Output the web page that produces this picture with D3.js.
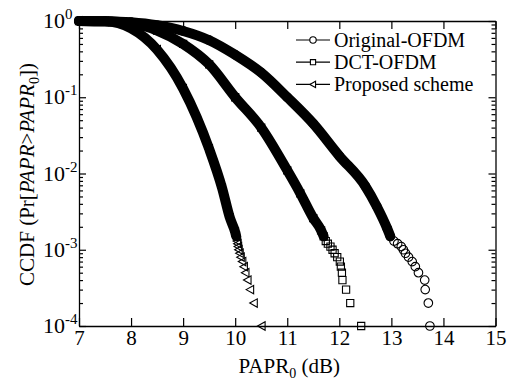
<!DOCTYPE html>
<html>
<head>
<meta charset="utf-8">
<script src="https://cdn.jsdelivr.net/npm/d3@7"></script>
<style>
  html, body { margin: 0; padding: 0; background: #fff; }
</style>
</head>
<body>
<div id="chart"></div>
<script>
// series names (legend order)
const seriesNames = ["Original-OFDM", "DCT-OFDM", "Proposed scheme"];

// Original-OFDM: PAPR0 (dB) and CCDF
const origX = [7.0, 7.5, 8.0, 8.5, 9.0, 9.5, 10.0, 10.5, 11.0, 11.5, 12.0, 12.5, 12.72, 12.92,
  12.98, 13.05, 13.12, 13.19, 13.23, 13.27, 13.33, 13.40, 13.46, 13.52, 13.64, 13.65, 13.71, 13.74];
const origP = [1.0, 0.995, 0.965, 0.88, 0.74, 0.56, 0.36, 0.21, 0.10, 0.045, 0.017, 0.0068, 0.0037, 0.0019,
  0.0015, 0.0013, 0.0012, 0.0011, 0.0010, 0.0009, 0.0008, 0.0007, 0.0006, 0.0005, 0.0004, 0.0003, 0.0002, 0.0001];

// DCT-OFDM
const dctX = [7.0, 7.5, 8.0, 8.5, 9.0, 9.5, 10.0, 10.5, 11.0, 11.25, 11.5, 11.65,
  11.70, 11.74, 11.78, 11.83, 11.87, 11.91, 11.96, 12.01, 12.03, 12.05, 12.06, 12.13, 12.21, 12.42];
const dctP = [1.0, 0.99, 0.94, 0.75, 0.50, 0.27, 0.10, 0.040, 0.011, 0.0055, 0.0026, 0.0018,
  0.0015, 0.0013, 0.0012, 0.0011, 0.0010, 0.0009, 0.0008, 0.0007, 0.0006, 0.0005, 0.0004, 0.0003, 0.0002, 0.0001];

// Proposed scheme
const propX = [7.0, 7.5, 8.0, 8.5, 9.0, 9.5, 9.75, 9.9, 10.0,
  10.02, 10.04, 10.05, 10.06, 10.07, 10.09, 10.11, 10.14, 10.17, 10.20, 10.24, 10.29, 10.36, 10.51];
const propP = [1.0, 0.99, 0.80, 0.42, 0.13, 0.021, 0.0064, 0.0026, 0.0017,
  0.0015, 0.0013, 0.0012, 0.0011, 0.0010, 0.0009, 0.0008, 0.0007, 0.0006, 0.0005, 0.0004, 0.0003, 0.0002, 0.0001];

// ticks
const xTicks = [7, 8, 9, 10, 11, 12, 13, 14, 15];
const yTickExps = [0, -1, -2, -3, -4];

const width = 508, height = 380;
const plot = { left: 79, right: 495.5, top: 21, bottom: 326 };
const bandCut = 0.0015; // below this the markers are drawn one by one
const FONT = '"Liberation Serif"';

const svg = d3.select("#chart").append("svg")
  .attr("width", width)
  .attr("height", height);

const x = d3.scaleLinear().domain([7, 15]).range([plot.left, plot.right]);
const y = d3.scaleLog().domain([1e-4, 1]).range([plot.bottom, plot.top]);

// marker shapes
const shapes = {
  circle: r => `M${r},0A${r},${r} 0 1,1 ${-r},0A${r},${r} 0 1,1 ${r},0Z`,
  square: r => `M${-r},${-r}H${r}V${r}H${-r}Z`,
  triangle: r => `M${-r},0L${r * 0.8},${-r}L${r * 0.8},${r}Z`
};

const series = [
  { name: seriesNames[0], xs: origX, ps: origP, shape: "circle", r: 4.3, lr: 3.2 },
  { name: seriesNames[1], xs: dctX, ps: dctP, shape: "square", r: 3.6, lr: 2.6 },
  { name: seriesNames[2], xs: propX, ps: propP, shape: "triangle", r: 4.2, lr: 3.2 }
].map(s => ({ ...s, pts: s.xs.map((v, i) => ({ x: v, p: s.ps[i] })) }));

// axes (ticks point inward)
const axisStyle = g => {
  g.select(".domain").attr("stroke", "#000").attr("stroke-width", 1.3);
  g.selectAll(".tick line").attr("stroke", "#000").attr("stroke-width", 1.2);
};

svg.append("g")
  .attr("transform", `translate(0,${plot.bottom})`)
  .call(d3.axisBottom(x).tickValues(xTicks).tickSizeInner(-8).tickSizeOuter(0).tickPadding(3))
  .call(axisStyle)
  .call(g => g.selectAll(".tick text")
    .attr("font-size", 21)
    .attr("fill", "#000")
    .attr("dy", "0.76em"));

svg.append("g")
  .attr("transform", `translate(0,${plot.top})`)
  .call(d3.axisTop(x).tickValues(xTicks).tickSizeInner(-8).tickSizeOuter(0).tickFormat(""))
  .call(axisStyle);

const majors = yTickExps.map(e => Math.pow(10, e));
const minors = [];
yTickExps.slice(0, -1).forEach(e => {
  for (let k = 2; k <= 9; k++) minors.push(k * Math.pow(10, e - 1));
});

[["left", plot.left, d3.axisLeft], ["right", plot.right, d3.axisRight]].forEach(([side, px, mk]) => {
  svg.append("g")
    .attr("transform", `translate(${px},0)`)
    .call(mk(y).tickValues(majors).tickSizeInner(-7).tickSizeOuter(0).tickFormat(""))
    .call(axisStyle);
  svg.append("g")
    .attr("transform", `translate(${px},0)`)
    .call(mk(y).tickValues(minors).tickSizeInner(-4).tickSizeOuter(0).tickFormat(""))
    .call(axisStyle)
    .call(g => g.select(".domain").remove());
});

// y tick labels 10^e
const yLab = svg.append("g").selectAll("text")
  .data(yTickExps)
  .join("text")
  .attr("x", 43)
  .attr("y", e => y(Math.pow(10, e)) + 7)
  .attr("font-size", 22);
yLab.append("tspan").text("10");
yLab.append("tspan").attr("font-size", 15).attr("dy", -9).text(e => String(e));

// dense part of each curve: thick band through the points
const band = d3.line()
  .x(d => x(d.x))
  .y(d => y(d.p))
  .curve(d3.curveMonotoneX);

const curves = svg.append("g");
series.forEach(s => {
  curves.append("path")
    .datum(s.pts.filter(d => d.p >= bandCut))
    .attr("d", band)
    .attr("fill", "none")
    .attr("stroke", "#000")
    .attr("stroke-width", 10)
    .attr("stroke-linecap", "round")
    .attr("stroke-linejoin", "round");

  curves.append("g").selectAll("path")
    .data(s.pts)
    .join("path")
    .attr("transform", d => `translate(${x(d.x)},${y(d.p)})`)
    .attr("d", shapes[s.shape](s.r))
    .attr("fill", "none")
    .attr("stroke", "#000")
    .attr("stroke-width", 1.1);
});

// legend
const legend = svg.append("g");
series.forEach((s, i) => {
  const ly = 40 + i * 22.2;
  legend.append("line")
    .attr("x1", 296).attr("x2", 330)
    .attr("y1", ly).attr("y2", ly)
    .attr("stroke", "#000").attr("stroke-width", 1.2);
  legend.append("path")
    .attr("transform", `translate(313,${ly})`)
    .attr("d", shapes[s.shape](s.lr))
    .attr("fill", "#fff")
    .attr("stroke", "#000")
    .attr("stroke-width", 1.1);
  legend.append("text")
    .attr("x", 334)
    .attr("y", ly + 7)
    .attr("font-size", 20)
    .text(s.name);
});

// x axis title
const xt = svg.append("text")
  .attr("x", (plot.left + plot.right) / 2 + 2)
  .attr("y", 373)
  .attr("text-anchor", "middle")
  .attr("font-size", 21);
xt.append("tspan").text("PAPR");
xt.append("tspan").attr("font-size", 14).attr("dy", 5).text("0");
xt.append("tspan").attr("dy", -5).text(" (dB)");

// y axis title
const yt = svg.append("text")
  .attr("transform", `translate(34,${(plot.top + plot.bottom) / 2 + 1}) rotate(-90)`)
  .attr("text-anchor", "middle")
  .attr("font-size", 21);
yt.append("tspan").text("CCDF (Pr[");
yt.append("tspan").attr("font-style", "italic").text("PAPR");
yt.append("tspan").text(">");
yt.append("tspan").attr("font-style", "italic").text("PAPR");
yt.append("tspan").attr("font-size", 14).attr("dy", 5).text("0");
yt.append("tspan").attr("dy", -5).text("])");

// every text in the serif face
svg.selectAll("text").style("font-family", FONT).style("fill", "#000");
</script>
</body>
</html>
